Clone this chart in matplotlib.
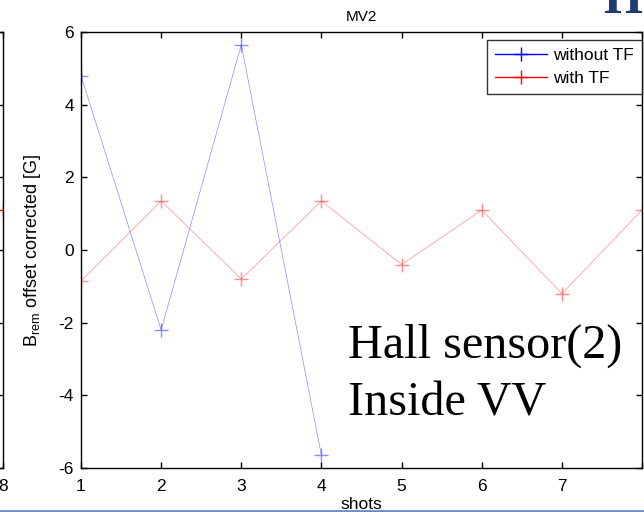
import matplotlib
matplotlib.use("Agg")
import matplotlib.pyplot as plt
from matplotlib.lines import Line2D

# data
shots_without = [1, 2, 3, 4]
without_tf = [4.8, -2.2, 5.65, -5.65]
shots_with = [1, 2, 3, 4, 5, 6, 7, 8]
with_tf = [-0.85, 1.35, -0.8, 1.35, -0.4, 1.1, -1.2, 1.1]

# neighbouring panel, only its last point is visible
left_x = [8]
left_y = [1.1]

yticks = [-6, -4, -2, 0, 2, 4, 6]
xticks = [1, 2, 3, 4, 5, 6, 7, 8]

plt.rcParams['font.family'] = ['Liberation Sans', 'DejaVu Sans']
plt.rcParams['mathtext.default'] = 'regular'
plt.rcParams['axes.unicode_minus'] = False

W, H = 644, 512
fig = plt.figure(figsize=(W / 100, H / 100), dpi=100)

def style(ax):
    ax.set_xlim(1, 8)
    ax.set_ylim(-6, 6)
    ax.set_xticks(xticks)
    ax.set_yticks(yticks)
    ax.tick_params(direction='in', top=True, right=True, length=4, width=1,
                   labelsize=12.5, pad=5)
    ax.tick_params(axis='x', pad=8)
    for s in ax.spines.values():
        s.set_linewidth(1)

# partial panel on the left edge
axl = fig.add_axes([-558 / W, 44 / H, 561 / W, 436 / H])
style(axl)
axl.plot(left_x, left_y, color='red', lw=0.5, marker='+', ms=10, mew=1)
axl.set_yticklabels([])

# main panel
ax = fig.add_axes([81 / W, 44 / H, 561 / W, 436 / H])
style(ax)
ax.plot(shots_without, without_tf, color='blue', lw=0.5, alpha=0.45,
        marker='+', ms=10, mew=1, mec='blue')
ax.plot(shots_with, with_tf, color='red', lw=0.5, alpha=0.45,
        marker='+', ms=10, mew=1, mec='red')
ax.set_xticklabels(['1', '2', '3', '4', '5', '6', '7', ''])
ax.set_title('MV2', fontsize=11, pad=8)
ax.set_xlabel('shots', fontsize=12.5, labelpad=2)
ax.set_ylabel(r'B$_{rem}$ offset corrected [G]', fontsize=13, labelpad=11)

handles = [Line2D([], [], color='blue', lw=1, marker='+', ms=10, mew=1),
           Line2D([], [], color='red', lw=1, marker='+', ms=10, mew=1)]
leg = ax.legend(handles, ['without TF', 'with TF'], loc='upper right',
                bbox_to_anchor=(1, 1 - 8 / 436), borderaxespad=0,
                fontsize=12.5, frameon=True, fancybox=False, edgecolor='black',
                handlelength=3.0, borderpad=0.45, labelspacing=0.45,
                handletextpad=0.35)
leg.get_frame().set_linewidth(1)

fig.text(348 / W, 1 - 358 / H, 'Hall sensor(2)', family='Liberation Serif',
         fontsize=34.7, color='black', va='baseline', ha='left')
fig.text(348 / W, 1 - 415 / H, 'Inside VV', family='Liberation Serif',
         fontsize=34.7, color='black', va='baseline', ha='left')

# slide decorations
fig.text(603 / W, 1 - 13 / H, 'H', family='Liberation Serif',
         fontweight='bold', fontsize=36, color='#1f3b73', va='baseline')
fig.add_artist(Line2D([0, 1], [1.5 / H, 1.5 / H], color='#6b8cc4', lw=2,
                      transform=fig.transFigure))

fig.savefig('out.png', dpi=100)
